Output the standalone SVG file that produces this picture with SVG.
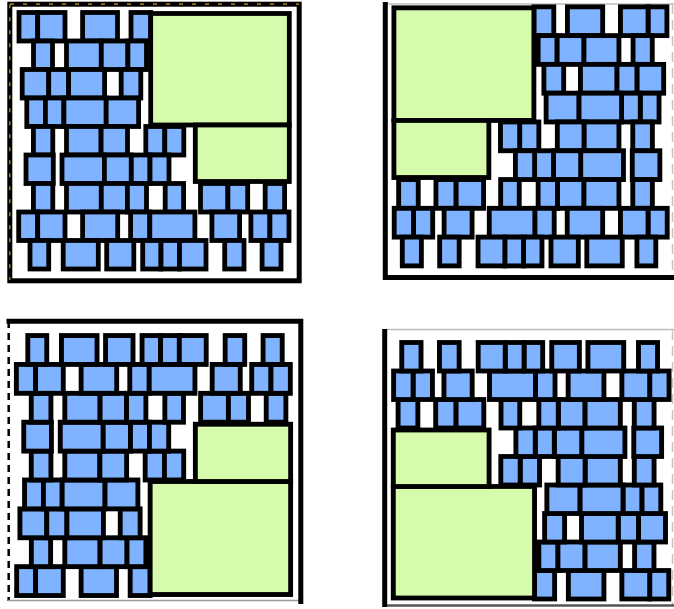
<svg xmlns="http://www.w3.org/2000/svg" width="674" height="609" viewBox="0 0 674 609">
<style>
.b{fill:#7fb2ff;stroke:#000;stroke-width:4.8}
.g{fill:#d6fbad;stroke:#000;stroke-width:4.8}
.fk{fill:none;stroke:#000;stroke-width:5}
.fl{fill:none;stroke:#bdbdbd;stroke-width:1.5}
.fd{fill:none;stroke:#c4c4c4;stroke-width:1.5;stroke-dasharray:10 6}
</style>
<defs>
<g id="panel">
<rect class="b" x="19" y="12.5" width="18.7" height="28.5"/>
<rect class="b" x="37.7" y="12.5" width="27.3" height="28.5"/>
<rect class="b" x="82.6" y="12.5" width="34.9" height="28.5"/>
<rect class="b" x="131" y="12.5" width="19.7" height="28.5"/>
<rect class="b" x="33.5" y="41" width="19" height="28.5"/>
<rect class="b" x="66.5" y="41" width="34.8" height="28.5"/>
<rect class="b" x="101.3" y="41" width="26.6" height="28.5"/>
<rect class="b" x="127.9" y="41" width="18.6" height="28.5"/>
<rect class="b" x="22.2" y="69.5" width="26.5" height="28.5"/>
<rect class="b" x="48.7" y="69.5" width="19.9" height="28.5"/>
<rect class="b" x="68.6" y="69.5" width="36" height="28.5"/>
<rect class="b" x="121.2" y="69.5" width="19.6" height="28.5"/>
<rect class="b" x="26.8" y="98" width="18.6" height="28.5"/>
<rect class="b" x="45.4" y="98" width="18.5" height="28.5"/>
<rect class="b" x="63.9" y="98" width="42.3" height="28.5"/>
<rect class="b" x="106.2" y="98" width="32.4" height="28.5"/>
<rect class="b" x="33.4" y="126.5" width="19.4" height="28.5"/>
<rect class="b" x="66.5" y="126.5" width="34.6" height="28.5"/>
<rect class="b" x="101.1" y="126.5" width="26.4" height="28.5"/>
<rect class="b" x="145.8" y="126.5" width="19" height="28.5"/>
<rect class="b" x="164.8" y="126.5" width="19" height="28.5"/>
<rect class="b" x="26" y="155" width="27.3" height="28.5"/>
<rect class="b" x="62" y="155" width="42.4" height="28.5"/>
<rect class="b" x="104.4" y="155" width="26.9" height="28.5"/>
<rect class="b" x="131.3" y="155" width="18.7" height="28.5"/>
<rect class="b" x="150" y="155" width="19" height="28.5"/>
<rect class="b" x="33.4" y="183.5" width="19.4" height="28.5"/>
<rect class="b" x="66.5" y="183.5" width="34.8" height="28.5"/>
<rect class="b" x="101.3" y="183.5" width="26.1" height="28.5"/>
<rect class="b" x="127.4" y="183.5" width="19.1" height="28.5"/>
<rect class="b" x="165.2" y="183.5" width="18.4" height="28.5"/>
<rect class="b" x="200.5" y="183.5" width="27.4" height="28.5"/>
<rect class="b" x="227.9" y="183.5" width="19.8" height="28.5"/>
<rect class="b" x="265.2" y="183.5" width="19.4" height="28.5"/>
<rect class="b" x="18.7" y="212" width="19" height="28.5"/>
<rect class="b" x="37.7" y="212" width="27.3" height="28.5"/>
<rect class="b" x="82.6" y="212" width="35.1" height="28.5"/>
<rect class="b" x="130.6" y="212" width="19.2" height="28.5"/>
<rect class="b" x="149.8" y="212" width="45.1" height="28.5"/>
<rect class="b" x="211.9" y="212" width="27.7" height="28.5"/>
<rect class="b" x="250.9" y="212" width="19" height="28.5"/>
<rect class="b" x="269.9" y="212" width="19.1" height="28.5"/>
<rect class="b" x="30" y="240.5" width="18.7" height="28.5"/>
<rect class="b" x="63.2" y="240.5" width="35.1" height="28.5"/>
<rect class="b" x="106.7" y="240.5" width="27.1" height="28.5"/>
<rect class="b" x="142.7" y="240.5" width="18.3" height="28.5"/>
<rect class="b" x="161" y="240.5" width="18.5" height="28.5"/>
<rect class="b" x="179.5" y="240.5" width="26.5" height="28.5"/>
<rect class="b" x="224.7" y="240.5" width="19.3" height="28.5"/>
<rect class="b" x="262.1" y="240.5" width="18.9" height="28.5"/>
<rect class="g" x="150.7" y="13.5" width="138.6" height="111.5"/>
<rect class="g" x="195.3" y="125" width="94" height="56.5"/>
</g>
</defs>
<rect x="0" y="0" width="674" height="609" fill="#fff"/>
<g id="panel-top-left">
<rect class="fk" x="9.8" y="4.2" width="289.4" height="276.6"/>
<path d="M10 4.2H299M9.8 4.2V280" fill="none" stroke="#c9a227" stroke-width="1.2" stroke-dasharray="4 9"/>
<use href="#panel"/>
</g>
<g id="panel-top-right">
<path class="fl" d="M385 4H674"/>
<path class="fd" d="M672.5 4V277"/>
<path class="fk" d="M385.3 2V280M383 277.5H674"/>
<use href="#panel" transform="matrix(-1.01 0 0 1.01 686.1 -5.8)"/>
</g>
<g id="panel-bottom-left">
<path d="M8.7 321V601" fill="none" stroke="#000" stroke-width="2.5" stroke-dasharray="7 5"/>
<path d="M8 600.5H301" fill="none" stroke="#999" stroke-width="1.5"/>
<path class="fk" d="M6.5 321.2H303.3M300.8 319V604"/>
<use href="#panel" transform="matrix(1.0136 0 0 -1.0136 -2.6 608.2)"/>
</g>
<g id="panel-bottom-right">
<path class="fl" d="M385 329.5H674"/>
<path class="fd" d="M672.5 330V605"/>
<path d="M383 605.5H674" fill="none" stroke="#555" stroke-width="2.5"/>
<path class="fk" d="M384.7 329V607"/>
<use href="#panel" transform="matrix(-1.019 0 0 -1 688.1 611.5)"/>
</g>
</svg>
